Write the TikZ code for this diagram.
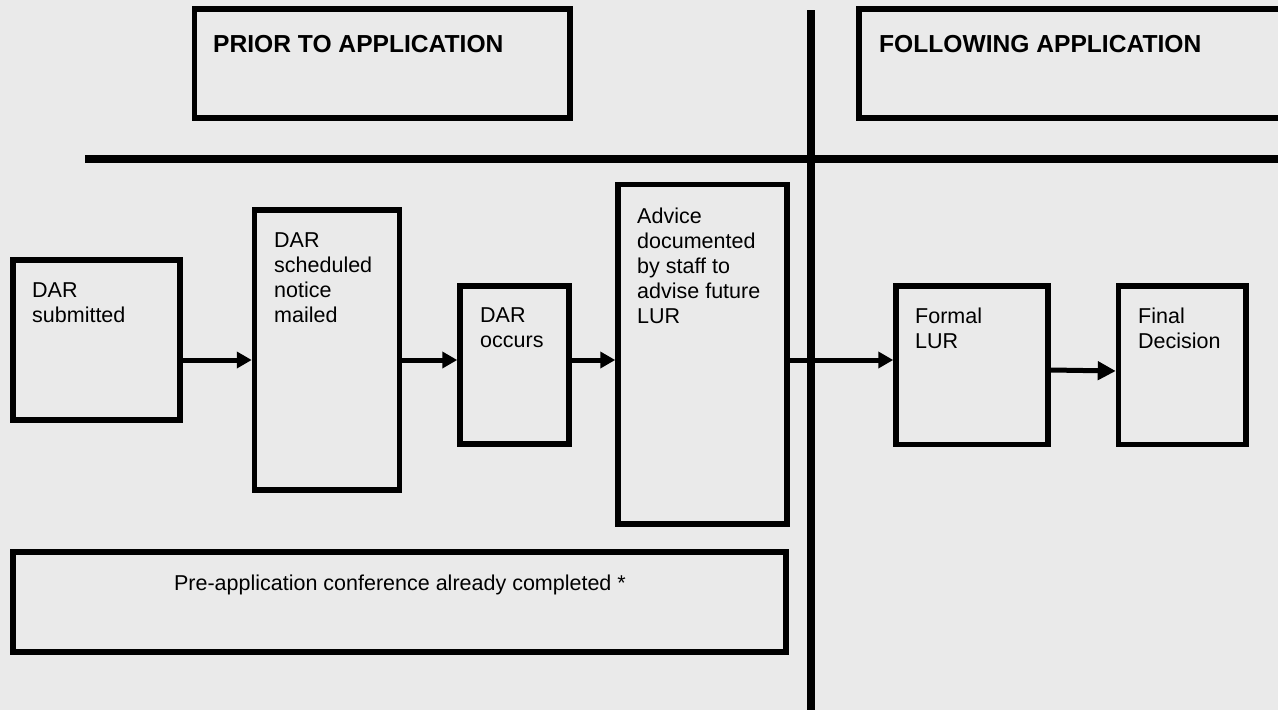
\documentclass[tikz,border=0pt]{standalone}
\usepackage{fontspec}
\setmainfont{Liberation Sans}
\usetikzlibrary{arrows.meta}
\definecolor{bg}{HTML}{EAEAEA}
\begin{document}
\begin{tikzpicture}[x=1pt,y=-1pt,
  box/.style={draw, line width=5.5pt, inner sep=0pt},
  txt/.style={anchor=north west, inner sep=0pt, align=left, font=\fontsize{21.5}{25}\selectfont},
  ttl/.style={anchor=base west, inner sep=0pt, font=\fontsize{24.6}{29}\selectfont\bfseries},
  arr/.style={line width=5pt, -{Triangle[length=15pt,width=16pt]}},
  sepline/.style={line width=8pt}]
\useasboundingbox[fill=bg] (0,0) rectangle (1278,710);
% separators
\coordinate (vt) at (811,10);
\coordinate (vb) at (811,712);
\coordinate (hl) at (85,159);
\coordinate (hr) at (1282,159);
\draw[sepline] (vt) -- (vb);
\draw[sepline] (hl) -- (hr);
% header boxes
\node[box, minimum width=375.5pt, minimum height=109pt] (pri) at (382.25,63.5) {};
\node[box, minimum width=451pt, minimum height=109pt] (fol) at (1084.5,63.5) {};
\node[ttl] (prit) at (213,52) {PRIOR TO APPLICATION};
\node[ttl] (folt) at (879,52) {FOLLOWING APPLICATION};
% process boxes
\node[box, minimum width=167pt, minimum height=160pt] (sub) at (96.5,340) {};
\node[box, minimum width=145pt, minimum height=280pt] (sch) at (327,350) {};
\node[box, minimum width=109pt, minimum height=158pt] (occ) at (514.5,365) {};
\node[box, minimum width=169pt, minimum height=339.5pt] (adv) at (702.5,354.25) {};
\node[box, minimum width=152pt, minimum height=158.5pt] (frm) at (972,365.25) {};
\node[box, minimum width=127.5pt, minimum height=158.5pt] (fin) at (1182.25,365.25) {};
\node[box, minimum width=773pt, minimum height=100pt] (pre) at (399.5,602) {};
% texts
\node[txt] (subt) at (32,283) {DAR\\submitted};
\node[txt] (scht) at (274,233) {DAR\\scheduled\\notice\\mailed};
\node[txt] (occt) at (480,308) {DAR\\occurs};
\node[txt] (advt) at (637,208) {Advice\\documented\\by staff to\\advise future\\LUR};
\node[txt] (frmt) at (915,308) {Formal\\LUR};
\node[txt] (fint) at (1138,308) {Final\\Decision};
\node[anchor=base, inner sep=0pt, font=\fontsize{21.5}{25}\selectfont] (pret) at (400,590) {Pre-application conference already completed *};
% arrows
\coordinate (ya) at (0,360);
\coordinate (yb) at (0,370);
\coordinate (yc) at (0,371);
\draw[arr] (sub.east |- ya) -- (sch.west |- ya);
\draw[arr] (sch.east |- ya) -- (occ.west |- ya);
\draw[arr] (occ.east |- ya) -- (adv.west |- ya);
\draw[arr] (adv.east |- ya) -- (frm.west |- ya);
\draw[line width=5pt, -{Triangle[length=18pt,width=18pt]}] (frm.east |- yb) -- (fin.west |- yc);
\end{tikzpicture}
\end{document}
